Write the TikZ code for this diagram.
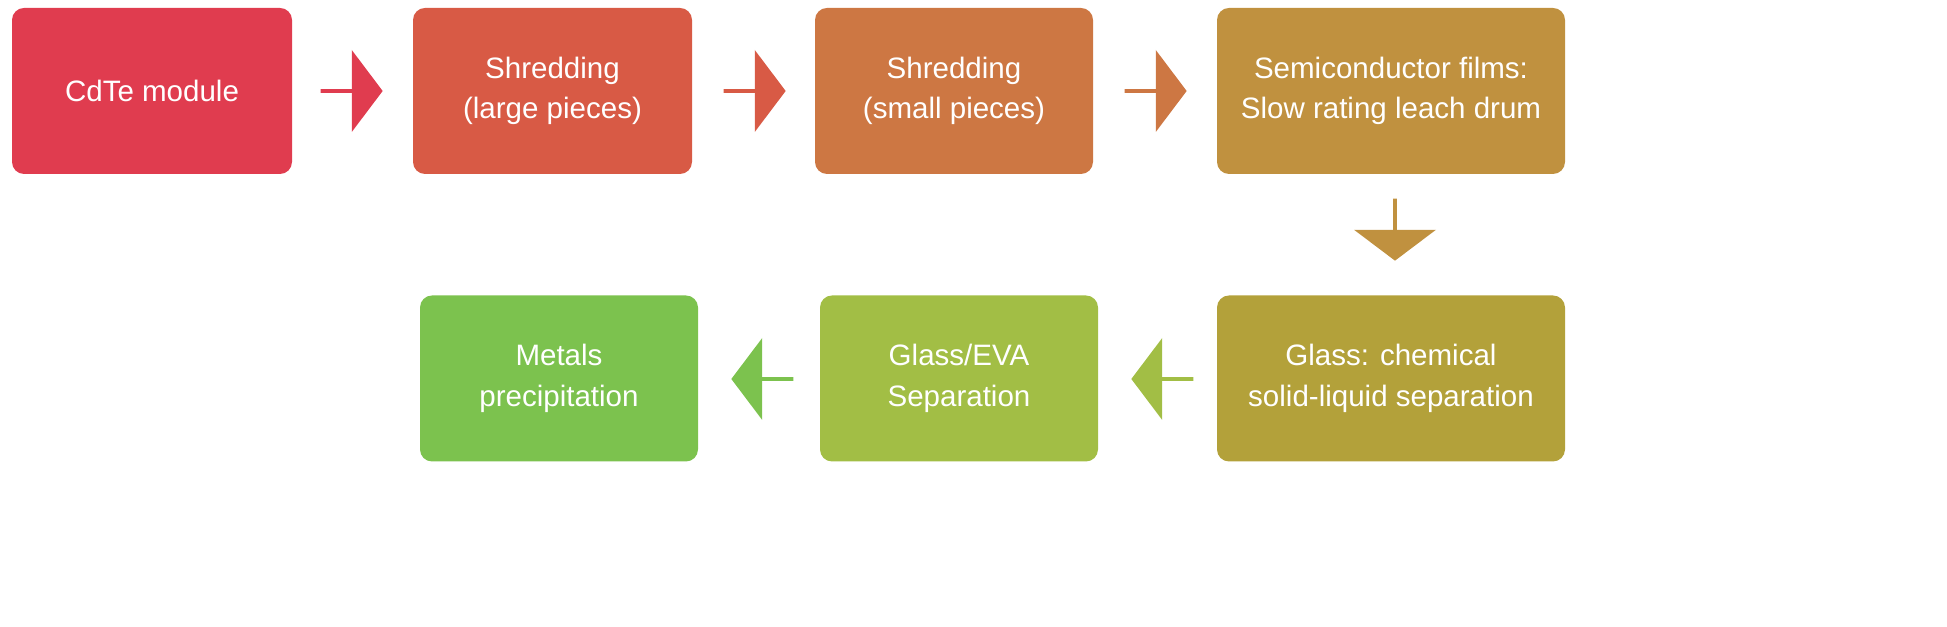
\documentclass[tikz,border=0pt]{standalone}
\usepackage{fontspec}
\setmainfont{Liberation Sans}
\usetikzlibrary{shapes.arrows}
\definecolor{c1}{HTML}{E03C4F}
\definecolor{c2}{HTML}{D85A45}
\definecolor{c3}{HTML}{CD7743}
\definecolor{c4}{HTML}{C0913F}
\definecolor{c5}{HTML}{B3A13A}
\definecolor{c6}{HTML}{A2BE45}
\definecolor{c7}{HTML}{7CC24E}
\tikzset{
 box/.style={rounded corners=0.12cm, minimum height=1.66cm, text=white, align=center, inner sep=0pt, font=\fontsize{8.4}{11.5}\selectfont},
 arr/.style={single arrow, minimum height=0.62cm, minimum width=0.82cm, single arrow head extend=0.155cm, inner sep=0pt, single arrow tip angle=106},
}
\begin{document}
\begin{tikzpicture}
\useasboundingbox (0,0) rectangle (19.47,6.27);
\node[box, fill=c1, minimum width=2.8cm] (b1) at (1.52,5.36) {CdTe module};
\node[box, fill=c2, minimum width=2.79cm] (b2) at (5.525,5.36) {Shredding\\(large pieces)};
\node[box, fill=c3, minimum width=2.78cm] (b3) at (9.54,5.36) {Shredding\\(small pieces)};
\node[box, fill=c4, minimum width=3.48cm] (b4) at (13.91,5.36) {Semiconductor films:\\Slow rating leach drum};
\node[box, fill=c5, minimum width=3.48cm] (b7) at (13.91,2.485) {Glass: chemical\\solid-liquid separation};
\node[box, fill=c6, minimum width=2.78cm] (b6) at (9.59,2.485) {Glass/EVA\\Separation};
\node[box, fill=c7, minimum width=2.78cm] (b5) at (5.59,2.485) {Metals\\precipitation};
\node[arr, fill=c1] (a1) at (3.51,5.36) {};
\node[arr, fill=c2] (a2) at (7.54,5.36) {};
\node[arr, fill=c3] (a3) at (11.55,5.36) {};
\node[arr, fill=c4, shape border rotate=270] (a4) at (13.95,3.98) {};
\node[arr, fill=c6, shape border rotate=180] (a5) at (11.63,2.48) {};
\node[arr, fill=c7, shape border rotate=180] (a6) at (7.63,2.48) {};
\end{tikzpicture}
\end{document}
